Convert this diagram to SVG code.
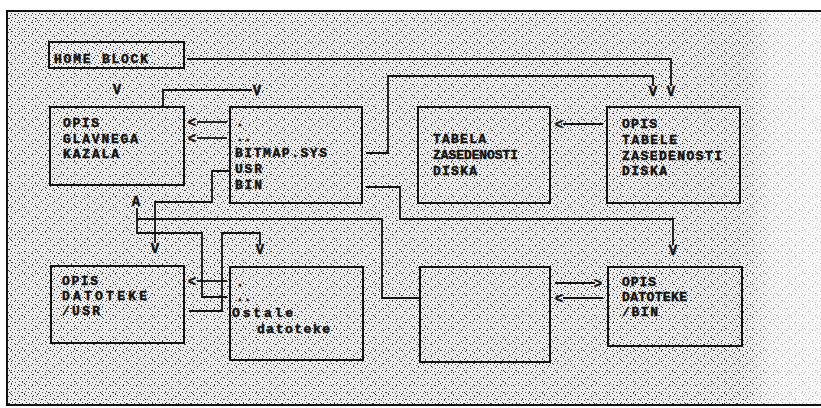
<svg xmlns="http://www.w3.org/2000/svg" width="821" height="408" viewBox="0 0 821 408">
<defs>
<style>
.box{fill:none;stroke:#111;stroke-width:2}
.wire{fill:none;stroke:#111;stroke-width:1.8}
.frame{fill:none;stroke:#111;stroke-width:2}
.t{font-family:"Liberation Mono","DejaVu Sans Mono",monospace;font-weight:bold;font-size:13px;fill:#111;stroke:#111;stroke-width:0.45}
.ah{font-family:"Liberation Mono","DejaVu Sans Mono",monospace;font-weight:bold;font-size:14px;fill:#111;stroke:#111;stroke-width:0.4;text-anchor:middle}
</style>
<pattern id="grain" width="7" height="7" patternUnits="userSpaceOnUse">
<rect width="7" height="7" fill="#ececec"/>
<rect x="0" y="0" width="1" height="1" fill="#444"/>
<rect x="3" y="1" width="1" height="1" fill="#444"/>
<rect x="5" y="3" width="1" height="1" fill="#444"/>
<rect x="1" y="4" width="1" height="1" fill="#444"/>
<rect x="4" y="6" width="1" height="1" fill="#444"/>
</pattern>
<pattern id="grain2" width="13" height="11" patternUnits="userSpaceOnUse">
<rect x="2" y="3" width="1" height="1" fill="#333"/>
<rect x="9" y="7" width="1" height="1" fill="#333"/>
<rect x="6" y="0" width="1" height="1" fill="#333"/>
<rect x="11" y="9" width="1" height="1" fill="#333"/>
</pattern>
<linearGradient id="fade" x1="0" y1="0" x2="1" y2="0">
<stop offset="0" stop-color="#fff" stop-opacity="0"/>
<stop offset="0.35" stop-color="#fff" stop-opacity="0.55"/>
<stop offset="1" stop-color="#fff" stop-opacity="0.7"/>
</linearGradient>
</defs>

<rect width="821" height="408" fill="#fff"/>
<g id="background">
<rect x="7" y="11" width="814" height="394" fill="url(#grain)"/>
<rect x="7" y="11" width="814" height="394" fill="url(#grain2)"/>
<rect x="745" y="11" width="76" height="394" fill="url(#fade)"/>
<path class="frame" d="M821,11 H7 V405 H821"/>
</g>

<g id="connectors">
<path class="wire" d="M187,59 H671 V86"/>
<path class="wire" d="M163,107 V90 H252"/>
<path class="wire" d="M227,122 H197"/>
<path class="wire" d="M227,138 H197"/>
<path class="wire" d="M230,171 H212 V202 H155 V243"/>
<path class="wire" d="M227,297 H202 V233 H137 V208"/>
<path class="wire" d="M420,298 H382 V219 H137"/>
<path class="wire" d="M189,311 H222 V233 H260 V245"/>
<path class="wire" d="M227,281 H197"/>
<path class="wire" d="M366,153 H388 V76 H653 V86"/>
<path class="wire" d="M366,187 H400 V219 H673 V245"/>
<path class="wire" d="M603,124 H563"/>
<path class="wire" d="M555,283 H595"/>
<path class="wire" d="M603,298 H563"/>
<text class="ah" x="117" y="94">V</text>
<text class="ah" x="257" y="95">V</text>
<text class="ah" x="653" y="96">V</text>
<text class="ah" x="671" y="96">V</text>
<text class="ah" x="155" y="253">V</text>
<text class="ah" x="260" y="254">V</text>
<text class="ah" x="673" y="255">V</text>
<text class="ah" x="136" y="206">A</text>
<text class="ah" x="192" y="127">&lt;</text>
<text class="ah" x="192" y="143">&lt;</text>
<text class="ah" x="192" y="286">&lt;</text>
<text class="ah" x="559" y="129">&lt;</text>
<text class="ah" x="559" y="303">&lt;</text>
<text class="ah" x="598" y="288">&gt;</text>
</g>

<g id="home-block">
<rect class="box" x="49" y="42" width="135" height="26"/>
<text class="t" x="54" y="63" textLength="94" lengthAdjust="spacing">HOME BLOCK</text>
</g>

<g id="opis-glavnega-kazala">
<rect class="box" x="50" y="107" width="134" height="78"/>
<text class="t" x="63" y="127" textLength="36" lengthAdjust="spacing">OPIS</text>
<text class="t" x="63" y="142.5" textLength="75" lengthAdjust="spacing">GLAVNEGA</text>
<text class="t" x="63" y="158" textLength="56" lengthAdjust="spacing">KAZALA</text>
</g>

<g id="root-directory">
<rect class="box" x="230" y="107" width="132" height="96"/>
<text class="t" x="236" y="126">.</text>
<text class="t" x="236" y="141">..</text>
<text class="t" x="235" y="157" textLength="92" lengthAdjust="spacing">BITMAP.SYS</text>
<text class="t" x="235" y="173" textLength="27" lengthAdjust="spacing">USR</text>
<text class="t" x="235" y="189" textLength="27" lengthAdjust="spacing">BIN</text>
</g>

<g id="tabela-zasedenosti">
<rect class="box" x="418" y="107" width="132" height="96"/>
<text class="t" x="433" y="143" textLength="53" lengthAdjust="spacing">TABELA</text>
<text class="t" x="433" y="159" textLength="85" lengthAdjust="spacingAndGlyphs">ZASEDENOSTI</text>
<text class="t" x="433" y="175" textLength="44" lengthAdjust="spacing">DISKA</text>
</g>

<g id="opis-tabele">
<rect class="box" x="607" y="107" width="133" height="96"/>
<text class="t" x="622" y="128" textLength="35" lengthAdjust="spacing">OPIS</text>
<text class="t" x="622" y="144" textLength="55" lengthAdjust="spacing">TABELE</text>
<text class="t" x="622" y="160" textLength="100" lengthAdjust="spacing">ZASEDENOSTI</text>
<text class="t" x="622" y="175" textLength="45" lengthAdjust="spacing">DISKA</text>
</g>

<g id="opis-usr">
<rect class="box" x="51" y="266" width="133" height="77"/>
<text class="t" x="62" y="285" textLength="36" lengthAdjust="spacing">OPIS</text>
<text class="t" x="62" y="300" textLength="85" lengthAdjust="spacing">DATOTEKE</text>
<text class="t" x="62" y="315" textLength="38" lengthAdjust="spacing">/USR</text>
</g>

<g id="usr-directory">
<rect class="box" x="230" y="267" width="133" height="93"/>
<text class="t" x="236" y="286">.</text>
<text class="t" x="236" y="301">..</text>
<text class="t" x="232" y="317" textLength="61" lengthAdjust="spacing">Ostale</text>
<text class="t" x="257" y="333" textLength="73" lengthAdjust="spacing">datoteke</text>
</g>

<g id="bin-directory">
<rect class="box" x="420" y="267" width="130" height="95"/>
</g>

<g id="opis-bin">
<rect class="box" x="608" y="267" width="134" height="79"/>
<text class="t" x="622" y="286" textLength="34" lengthAdjust="spacing">OPIS</text>
<text class="t" x="622" y="301" textLength="65" lengthAdjust="spacing">DATOTEKE</text>
<text class="t" x="622" y="316" textLength="36" lengthAdjust="spacing">/BIN</text>
</g>
</svg>
